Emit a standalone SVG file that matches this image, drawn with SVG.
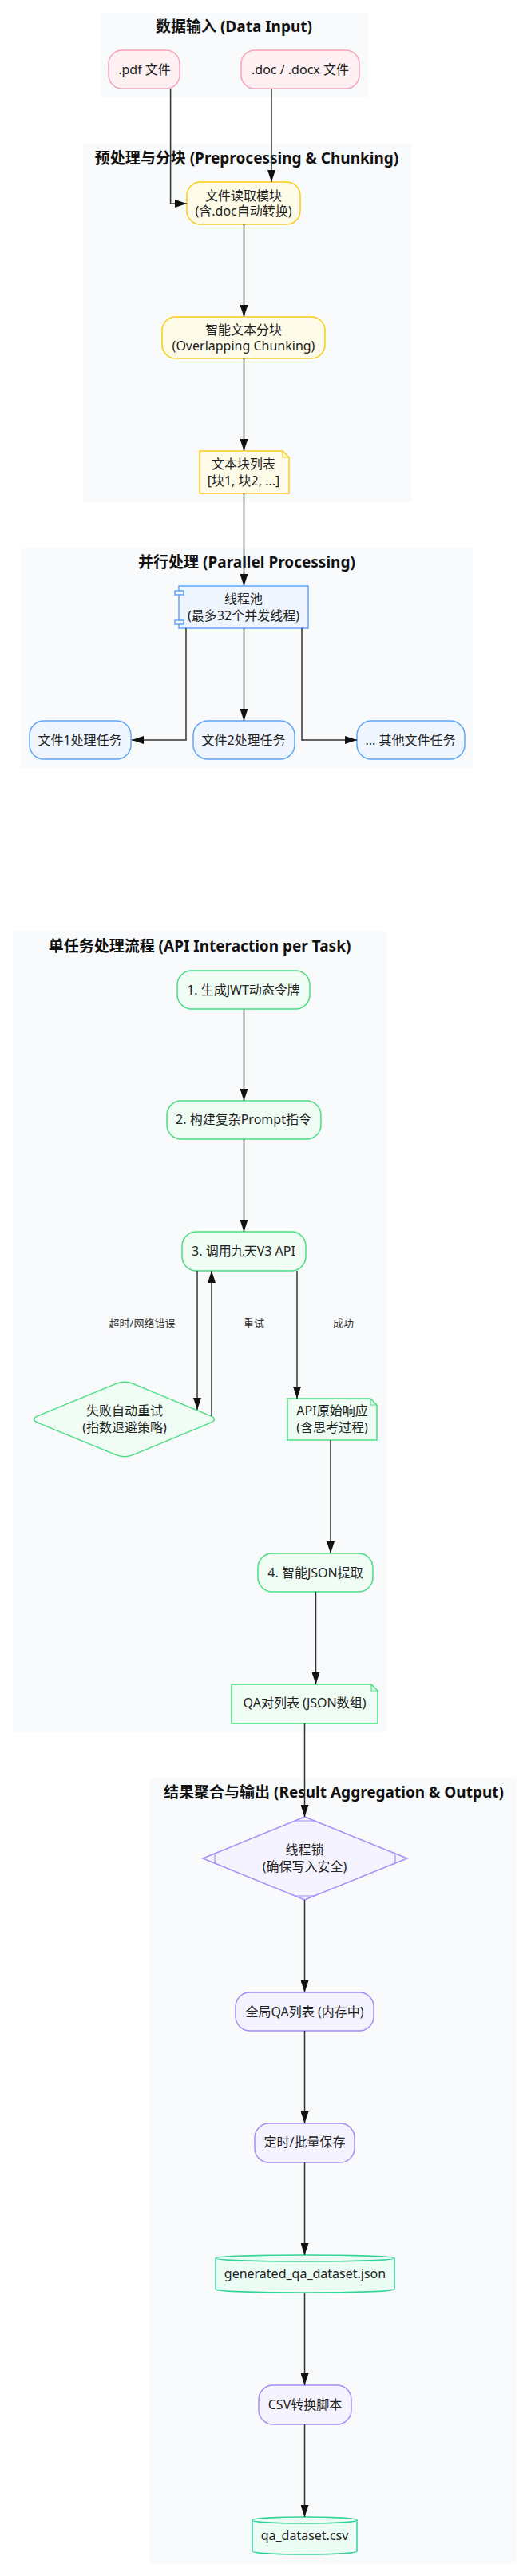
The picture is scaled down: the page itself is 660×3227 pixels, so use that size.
<svg xmlns="http://www.w3.org/2000/svg" width="660" height="3227" viewBox="0 0 660 3227">
<defs>
<style>
text{font-family:"Noto Sans","Noto Sans CJK SC",sans-serif;fill:#222;}
.t{font-size:16px;text-anchor:middle;dominant-baseline:central;}
.title{font-size:19px;font-weight:bold;text-anchor:middle;dominant-baseline:central;fill:#111;}
.lbl{font-size:13px;text-anchor:middle;dominant-baseline:central;fill:#333;}
.cl{fill:#f8fafc;stroke:none;}
.pink{fill:#fff1f3;stroke:#f9a3b8;stroke-width:1.5;}
.yel{fill:#fefce8;stroke:#facc15;stroke-width:1.5;}
.blue{fill:#eff6ff;stroke:#60a5fa;stroke-width:1.5;}
.green{fill:#f0fdf4;stroke:#4ade80;stroke-width:1.5;}
.purp{fill:#f5f3ff;stroke:#a78bfa;stroke-width:1.5;}
.cyl{fill:#ecfdf5;stroke:#34d399;stroke-width:1.5;}
.e{fill:none;stroke:#333;stroke-width:1.5;marker-end:url(#arr);}
</style>
<marker id="arr" markerUnits="userSpaceOnUse" markerWidth="15" markerHeight="10" refX="15" refY="5" orient="auto">
<path d="M0,0 L15,5 L0,10 z" fill="#111"/>
</marker>
</defs>
<rect width="660" height="3227" fill="#ffffff"/>

<g id="clusters">
<g id="cluster-input"><rect class="cl" x="126" y="16" width="335" height="106"/><text class="title" x="293" y="33">数据输入 (Data Input)</text></g>
<g id="cluster-pre"><rect class="cl" x="104" y="180" width="411" height="449"/><text class="title" x="309" y="198">预处理与分块 (Preprocessing &amp; Chunking)</text></g>
<g id="cluster-par"><rect class="cl" x="26" y="687" width="566" height="275"/><text class="title" x="309" y="704">并行处理 (Parallel Processing)</text></g>
<g id="cluster-api"><rect class="cl" x="16" y="1167" width="468" height="1002"/><text class="title" x="250" y="1185">单任务处理流程 (API Interaction per Task)</text></g>
<g id="cluster-out"><rect class="cl" x="187" y="2227" width="460" height="985"/><text class="title" x="418" y="2245">结果聚合与输出 (Result Aggregation &amp; Output)</text></g>
</g>

<g id="nodes">
<g id="pdf"><rect class="pink" x="136" y="63" width="89" height="48" rx="17"/><text class="t" x="181" y="87">.pdf 文件</text></g>
<g id="doc"><rect class="pink" x="302" y="63" width="148" height="48" rx="17"/><text class="t" x="376" y="87">.doc / .docx 文件</text></g>
<g id="reader"><rect class="yel" x="234" y="228" width="142" height="53" rx="17"/><text class="t" x="305" y="245">文件读取模块</text><text class="t" x="305" y="264">(含.doc自动转换)</text></g>
<g id="chunk"><rect class="yel" x="203" y="397" width="204" height="52" rx="17"/><text class="t" x="305" y="413">智能文本分块</text><text class="t" x="305" y="433">(Overlapping Chunking)</text></g>
<g id="chunklist"><path class="yel" d="M250,565 L354,565 L362,573 L362,618 L250,618 Z"/><path d="M354,565 L354,573 L362,573" fill="none" stroke="#facc15" stroke-width="1.2"/><text class="t" x="305" y="581">文本块列表</text><text class="t" x="305" y="602">[块1, 块2, ...]</text></g>
<g id="pool"><rect class="blue" x="224" y="734" width="162" height="53"/><rect class="blue" x="219" y="740" width="11" height="5"/><rect class="blue" x="219" y="777" width="11" height="5"/><text class="t" x="305" y="750">线程池</text><text class="t" x="305" y="771">(最多32个并发线程)</text></g>
<g id="task1"><rect class="blue" x="37" y="903" width="127" height="48" rx="18"/><text class="t" x="100" y="927">文件1处理任务</text></g>
<g id="task2"><rect class="blue" x="242" y="903" width="127" height="48" rx="18"/><text class="t" x="305" y="927">文件2处理任务</text></g>
<g id="taskn"><rect class="blue" x="447" y="903" width="135" height="48" rx="18"/><text class="t" x="514" y="927">... 其他文件任务</text></g>
<g id="step1"><rect class="green" x="222" y="1216" width="166" height="48" rx="18"/><text class="t" x="305" y="1240">1. 生成JWT动态令牌</text></g>
<g id="step2"><rect class="green" x="209" y="1379" width="193" height="48" rx="18"/><text class="t" x="305" y="1402">2. 构建复杂Prompt指令</text></g>
<g id="step3"><rect class="green" x="228" y="1543" width="155" height="49" rx="18"/><text class="t" x="305" y="1567">3. 调用九天V3 API</text></g>
<g id="retry"><path class="green" d="M167.1,1733.6 L262.9,1773.4 Q274,1778 262.9,1782.6 L167.1,1822.4 Q156,1827 144.9,1822.4 L48.1,1782.6 Q37,1778 48.1,1773.4 L144.9,1733.6 Q156,1729 167.1,1733.6 Z"/><text class="t" x="156" y="1767">失败自动重试</text><text class="t" x="156" y="1788">(指数退避策略)</text></g>
<g id="raw"><path class="green" d="M360,1752 L464,1752 L472,1760 L472,1804 L360,1804 Z"/><path d="M464,1752 L464,1760 L472,1760" fill="none" stroke="#4ade80" stroke-width="1.2"/><text class="t" x="416" y="1767">API原始响应</text><text class="t" x="416" y="1788">(含思考过程)</text></g>
<g id="step4"><rect class="green" x="323" y="1946" width="144" height="48" rx="18"/><text class="t" x="395" y="1970">4. 智能JSON提取</text></g>
<g id="qalist"><path class="green" d="M290,2110 L465,2110 L473,2118 L473,2159 L290,2159 Z"/><path d="M465,2110 L465,2118 L473,2118" fill="none" stroke="#4ade80" stroke-width="1.2"/><text class="t" x="381.5" y="2133">QA对列表 (JSON数组)</text></g>
<g id="lock"><path class="purp" d="M381.5,2276 L510,2328 L381.5,2380 L254,2328 Z"/><path d="M369,2281 L394,2281 M269,2322 L269,2334 M495,2322 L495,2334 M369,2375 L394,2375" fill="none" stroke="#a78bfa" stroke-width="1.2"/><text class="t" x="381.5" y="2317">线程锁</text><text class="t" x="381.5" y="2338">(确保写入安全)</text></g>
<g id="globalqa"><rect class="purp" x="295" y="2496" width="173" height="48" rx="18"/><text class="t" x="381.5" y="2520">全局QA列表 (内存中)</text></g>
<g id="save"><rect class="purp" x="319" y="2660" width="125" height="49" rx="18"/><text class="t" x="381.5" y="2683">定时/批量保存</text></g>
<g id="jsonfile"><path class="cyl" d="M270,2829 a112,4 0 0 0 224,0 a112,4 0 0 0 -224,0 l0,39 a112,4 0 0 0 224,0 l0,-39"/><text class="t" x="382" y="2848">generated_qa_dataset.json</text></g>
<g id="csvscript"><rect class="purp" x="324" y="2988" width="116" height="49" rx="18"/><text class="t" x="382" y="3012">CSV转换脚本</text></g>
<g id="csvfile"><path class="cyl" d="M316,3157 a65.5,4 0 0 0 131,0 a65.5,4 0 0 0 -131,0 l0,39 a65.5,4 0 0 0 131,0 l0,-39"/><text class="t" x="381.5" y="3176">qa_dataset.csv</text></g>
</g>

<g id="connectors">
<path class="e" d="M213.6,111 L213.6,255 L234,255"/>
<path class="e" d="M340,111 L340,228"/>
<path class="e" d="M305.5,281 L305.5,397"/>
<path class="e" d="M305.5,449 L305.5,565"/>
<path class="e" d="M305.5,618 L305.5,734"/>
<path class="e" d="M233,787 L233,927 L165,927"/>
<path class="e" d="M305.5,787 L305.5,903"/>
<path class="e" d="M378,787 L378,927 L447,927"/>
<path class="e" d="M305.5,1264 L305.5,1379"/>
<path class="e" d="M305.5,1427 L305.5,1543"/>
<path class="e" d="M247,1592 L247,1766"/>
<path class="e" d="M265,1774 L265,1592"/>
<path class="e" d="M372,1592 L372,1752"/>
<path class="e" d="M414,1804 L414,1946"/>
<path class="e" d="M395.5,1994 L395.5,2110"/>
<path class="e" d="M381.5,2159 L381.5,2276"/>
<path class="e" d="M381.5,2380 L381.5,2496"/>
<path class="e" d="M381.5,2544 L381.5,2660"/>
<path class="e" d="M381.5,2709 L381.5,2825"/>
<path class="e" d="M381.5,2872 L381.5,2988"/>
<path class="e" d="M381.5,3037 L381.5,3153"/>
<text class="lbl" x="178" y="1657">超时/网络错误</text>
<text class="lbl" x="318" y="1657">重试</text>
<text class="lbl" x="430" y="1657">成功</text>
</g>
</svg>
